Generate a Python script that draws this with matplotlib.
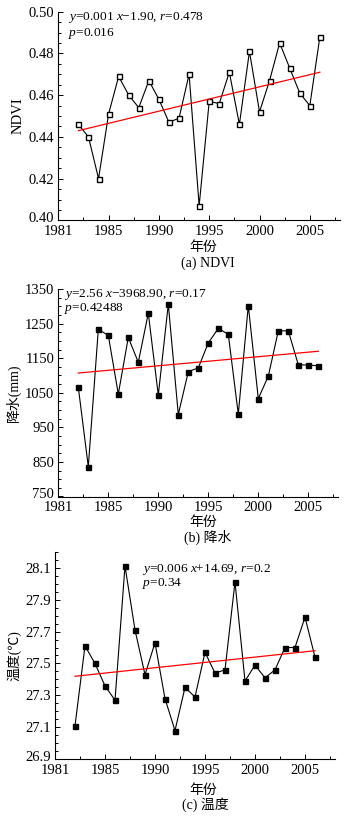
import matplotlib
matplotlib.use("Agg")
import matplotlib.pyplot as plt
import matplotlib.transforms as mtransforms
from matplotlib.ticker import FixedLocator, AutoMinorLocator

plt.rcParams['font.family'] = ['Liberation Serif', 'Noto Sans CJK SC']
plt.rcParams['mathtext.fontset'] = 'custom'
plt.rcParams['mathtext.rm'] = 'Liberation Serif'
plt.rcParams['mathtext.it'] = 'Liberation Serif:italic'

# data
years = list(range(1982, 2007))
ndvi = [0.446, 0.440, 0.420, 0.451, 0.469, 0.460, 0.454, 0.467, 0.458, 0.447,
        0.449, 0.470, 0.407, 0.457, 0.456, 0.471, 0.446, 0.481, 0.452, 0.467,
        0.485, 0.473, 0.461, 0.455, 0.488]
precip = [1066, 836, 1233, 1216, 1046, 1210, 1138, 1280, 1043, 1306,
          987, 1111, 1122, 1194, 1236, 1219, 988, 1302, 1033, 1098,
          1229, 1229, 1131, 1130, 1128]
temp = [27.11, 27.61, 27.50, 27.36, 27.27, 28.11, 27.71, 27.43, 27.63, 27.28,
        27.08, 27.35, 27.29, 27.57, 27.44, 27.46, 28.01, 27.39, 27.49, 27.41,
        27.46, 27.60, 27.60, 27.79, 27.54]

# trend lines (value at first and last year)
trend_years = [1982, 2006]
ndvi_trend = [0.443, 0.471]
precip_trend = [1107, 1170]
temp_trend = [27.42, 27.58]

xtick_pos = [1980, 1985, 1990, 1995, 2000, 2005]
xtick_labels = ['1981', '1985', '1990', '1995', '2000', '2005']
ndvi_ticks = [0.40, 0.42, 0.44, 0.46, 0.48, 0.50]
precip_ticks = [750, 850, 950, 1050, 1150, 1250, 1350]
temp_ticks = [26.9, 27.1, 27.3, 27.5, 27.7, 27.9, 28.1]

W, H = 357, 818
fig = plt.figure(figsize=(W / 100, H / 100), dpi=100)


def px_axes(l, r, t, b):
    return fig.add_axes([l / W, 1 - b / H, (r - l) / W, (b - t) / H])


def px_text(x, y, s, **kw):
    kw.setdefault('fontsize', 9.6)
    kw.setdefault('va', 'center')
    fig.text(x / W, 1 - y / H, s, **kw)


def style(ax, yticks, yfmt, ylim):
    for s in ['top', 'right']:
        ax.spines[s].set_visible(False)
    for s in ['left', 'bottom']:
        ax.spines[s].set_linewidth(0.8)
    ax.set_xlim(1980, 2008)
    ax.set_ylim(*ylim)
    ax.xaxis.set_major_locator(FixedLocator(xtick_pos))
    ax.set_xticklabels(xtick_labels)
    ax.xaxis.set_minor_locator(AutoMinorLocator(2))
    ax.yaxis.set_major_locator(FixedLocator(yticks))
    ax.set_yticklabels([yfmt.format(v) for v in yticks])
    ax.yaxis.set_minor_locator(AutoMinorLocator(4))
    ax.tick_params(which='both', direction='in', width=0.7, labelsize=10.5)
    ax.tick_params(axis='x', pad=3.5)
    ax.tick_params(axis='y', pad=3)
    ax.tick_params(which='major', length=3.5)
    ax.tick_params(which='minor', length=2)
    # nudge the lowest y label up a little so it clears the "1981" label
    lab = ax.get_yticklabels()[0]
    lab.set_transform(lab.get_transform() +
                      mtransforms.ScaledTranslation(0, 3 / 100, fig.dpi_scale_trans))


# (a) NDVI
ax1 = px_axes(58.3, 340, 11.7, 220.4)
ax1.plot(years, ndvi, color='black', lw=0.8, marker='s', ms=3.6,
         mfc='white', mec='black', mew=1.0)
ax1.plot(trend_years, ndvi_trend, color='red', lw=0.9)
style(ax1, ndvi_ticks, '{:.2f}', (0.40, 0.50))
ax1.set_ylabel('NDVI', fontsize=10.5, labelpad=3)
px_text(68, 17.5, '$y$=0.001 $x$\u22121.90, $r$=0.478')
px_text(68, 33.5, '$p$=0.016')
px_text(203, 247.5, '年份', fontsize=10, ha='center')
px_text(208, 263.5, '(a) NDVI', fontsize=10, ha='center')

# (b) precipitation
ax2 = px_axes(58.3, 338.3, 289, 496.5)
ax2.plot(years, precip, color='black', lw=0.8, marker='s', ms=3.6,
         mfc='black', mec='black')
ax2.plot(trend_years, precip_trend, color='red', lw=0.9)
style(ax2, precip_ticks, '{:d}', (750, 1350))
ax2.set_ylabel('降水(mm)', fontsize=10, labelpad=3)
px_text(63.5, 294, '$y$=2.56 $x$\u22123968.90, $r$=0.17')
px_text(63.5, 309, '$p$=0.42488')
px_text(203, 522, '年份', fontsize=10, ha='center')
px_text(208, 537.5, '(b) 降水', fontsize=10, ha='center')

# (c) temperature
ax3 = px_axes(55, 335, 551.7, 759.3)
ax3.plot(years, temp, color='black', lw=0.8, marker='s', ms=3.6,
         mfc='black', mec='black')
ax3.plot(trend_years, temp_trend, color='red', lw=0.9)
style(ax3, temp_ticks, '{:.1f}', (26.9, 28.2))
ax3.set_ylabel('温度(℃)', fontsize=10, labelpad=3)
px_text(142.5, 569.5, '$y$=0.006 $x$+14.69, $r$=0.2')
px_text(142.5, 583.5, '$p$=0.34')
px_text(203, 790.5, '年份', fontsize=10, ha='center')
px_text(205, 805, '(c) 温度', fontsize=10, ha='center')

fig.savefig('out.png', dpi=100)
